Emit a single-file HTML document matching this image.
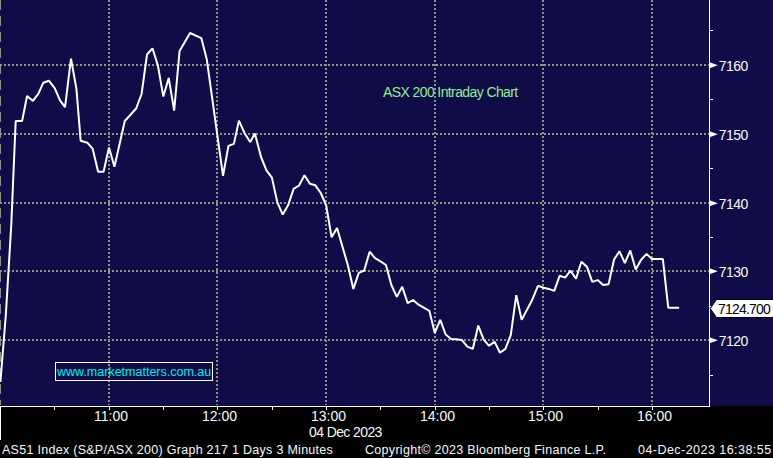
<!DOCTYPE html>
<html><head><meta charset="utf-8"><style>
html,body{margin:0;padding:0;background:#000;}
#c{position:relative;width:773px;height:458px;overflow:hidden;background:#000;}
svg{position:absolute;left:0;top:0;}
.t{position:absolute;font-family:"Liberation Sans",sans-serif;font-size:13px;line-height:16px;white-space:pre;color:#f8f8f8;}
</style></head><body><div id="c">
<svg width="773" height="458" viewBox="0 0 773 458">
<rect x="0" y="0" width="709" height="406" fill="#100c48"/>
<rect x="710" y="0" width="63" height="406" fill="#100c48"/>
<g shape-rendering="crispEdges">
<line x1="0" y1="65" x2="709" y2="65" stroke="#939187" stroke-width="2" stroke-dasharray="2 2"/>
<line x1="0" y1="134" x2="709" y2="134" stroke="#939187" stroke-width="2" stroke-dasharray="2 2"/>
<line x1="0" y1="203" x2="709" y2="203" stroke="#939187" stroke-width="2" stroke-dasharray="2 2"/>
<line x1="0" y1="271" x2="709" y2="271" stroke="#939187" stroke-width="2" stroke-dasharray="2 2"/>
<line x1="0" y1="340" x2="709" y2="340" stroke="#939187" stroke-width="2" stroke-dasharray="2 2"/>
<line x1="109" y1="0" x2="109" y2="405" stroke="#939187" stroke-width="2" stroke-dasharray="2 2"/>
<line x1="217" y1="0" x2="217" y2="405" stroke="#939187" stroke-width="2" stroke-dasharray="2 2"/>
<line x1="326" y1="0" x2="326" y2="405" stroke="#939187" stroke-width="2" stroke-dasharray="2 2"/>
<line x1="435" y1="0" x2="435" y2="405" stroke="#939187" stroke-width="2" stroke-dasharray="2 2"/>
<line x1="543" y1="0" x2="543" y2="405" stroke="#939187" stroke-width="2" stroke-dasharray="2 2"/>
<line x1="652" y1="0" x2="652" y2="405" stroke="#939187" stroke-width="2" stroke-dasharray="2 2"/>
<line x1="0.5" y1="0" x2="0.5" y2="405" stroke="#939187" stroke-width="1" stroke-dasharray="10 6"/>
<rect x="709" y="0" width="1" height="407" fill="#fff"/>
<rect x="0" y="406" width="710" height="1" fill="#fff"/>
<rect x="0" y="406" width="1" height="34" fill="#fff"/>
<rect x="54" y="407" width="1" height="3" fill="#fff"/>
<rect x="109" y="407" width="1" height="3" fill="#fff"/>
<rect x="163" y="407" width="1" height="3" fill="#fff"/>
<rect x="217" y="407" width="1" height="3" fill="#fff"/>
<rect x="272" y="407" width="1" height="3" fill="#fff"/>
<rect x="326" y="407" width="1" height="3" fill="#fff"/>
<rect x="380" y="407" width="1" height="3" fill="#fff"/>
<rect x="435" y="407" width="1" height="3" fill="#fff"/>
<rect x="489" y="407" width="1" height="3" fill="#fff"/>
<rect x="543" y="407" width="1" height="3" fill="#fff"/>
<rect x="598" y="407" width="1" height="3" fill="#fff"/>
<rect x="652" y="407" width="1" height="3" fill="#fff"/>
<rect x="710" y="30" width="3" height="1" fill="#fff"/>
<rect x="710" y="99" width="3" height="1" fill="#fff"/>
<rect x="710" y="168" width="3" height="1" fill="#fff"/>
<rect x="710" y="237" width="3" height="1" fill="#fff"/>
<rect x="710" y="306" width="3" height="1" fill="#fff"/>
<rect x="710" y="375" width="3" height="1" fill="#fff"/>
</g>
<polygon points="709.5,62.3 717.9,65.3 709.5,68.3" fill="#fff"/>
<polygon points="709.5,131.3 717.9,134.3 709.5,137.3" fill="#fff"/>
<polygon points="709.5,200.3 717.9,203.3 709.5,206.3" fill="#fff"/>
<polygon points="709.5,268.3 717.9,271.3 709.5,274.3" fill="#fff"/>
<polygon points="709.5,337.3 717.9,340.3 709.5,343.3" fill="#fff"/>
<rect x="55.5" y="362.5" width="157" height="18" fill="none" stroke="#fff" stroke-width="1"/>
<polyline points="0.40,382 5.83,315 11.26,225 15.69,121 22.12,121 27.05,96.0 32.98,100.9 38.41,93.6 43.34,82.7 48.87,80.7 54.70,88.1 60.13,100.6 65.06,107.1 70.99,58.6 76.42,88.9 80.65,140.7 87.28,142.7 92.71,148.9 98.14,171.7 103.57,171.7 109.00,147.4 114.43,166.8 124.79,121 130.72,114.5 136.15,108.5 141.58,94 147.01,54.5 152.44,48.3 157.87,65.4 163.30,96.5 168.73,78.0 174.16,110.6 179.59,51.0 190.05,33.0 201.31,38.1 206.74,59.2 223.03,175.8 228.46,145.9 233.89,143.9 238.92,120.6 244.75,133.5 250.18,142 254.91,133.5 261.04,157 266.47,170.3 271.90,177.6 277.33,202.4 282.76,214.6 288.19,205.1 293.62,188.9 299.05,185.5 304.48,175.3 309.91,183.8 315.34,185.3 320.77,193 326.20,205.5 331.63,237.3 337.06,228 347.92,265.5 353.35,288.9 358.78,272.9 364.21,270.5 369.64,251.7 375.07,258.2 380.50,261.3 385.93,265.0 391.36,285.0 396.79,296.9 402.22,286.8 407.65,303.1 413.08,300 418.51,304.7 429.37,310.9 434.80,332.9 440.23,319.9 445.66,334.5 451.09,339 456.52,339.2 461.95,340.1 467.38,346.6 472.81,348.9 478.24,325.6 483.67,339.6 489.10,345.8 494.53,341.6 499.96,352.8 505.39,348.9 510.82,334.9 516.25,295.2 521.68,319.9 531.74,300.8 537.97,285.8 543.40,287.8 548.83,288.9 554.26,290.9 559.69,275.7 565.12,277.6 570.55,270.7 575.98,278.8 581.41,261.7 586.84,266.7 592.27,281.9 597.70,280.1 603.13,285 608.56,284.3 613.99,259.8 619.42,251.3 624.85,263 630.28,250.5 635.71,269.5 641.14,259.8 646.57,253.9 652.00,259.1 657.43,259.1 662.86,259.1 668.29,307.8 673.72,307.8 679.15,307.8" fill="none" stroke="#fff" stroke-width="2" stroke-linejoin="bevel"/>
<polygon points="710.3,308.5 716.5,299.5 774,299.5 774,317.5 716.5,317.5" fill="#fff" stroke="#000" stroke-width="1"/>
</svg>
<div class="t" style="left:718.7px;top:58px;font-size:14px;letter-spacing:-0.5px">7160</div><div class="t" style="left:718.7px;top:127px;font-size:14px;letter-spacing:-0.5px">7150</div><div class="t" style="left:718.7px;top:196px;font-size:14px;letter-spacing:-0.5px">7140</div><div class="t" style="left:718.7px;top:264px;font-size:14px;letter-spacing:-0.5px">7130</div><div class="t" style="left:718.7px;top:333px;font-size:14px;letter-spacing:-0.5px">7120</div>
<div class="t" style="left:94px;top:408px;font-size:14px">11:00</div><div class="t" style="left:202px;top:408px;font-size:14px">12:00</div><div class="t" style="left:311px;top:408px;font-size:14px">13:00</div><div class="t" style="left:420px;top:408px;font-size:14px">14:00</div><div class="t" style="left:528px;top:408px;font-size:14px">15:00</div><div class="t" style="left:637px;top:408px;font-size:14px">16:00</div>
<div class="t" style="left:309px;top:424px;font-size:14px;letter-spacing:-0.6px">04 Dec 2023</div><div class="t" style="left:718px;top:301px;font-size:14px;letter-spacing:-0.8px;color:#000">7124.700</div><div class="t" style="left:383px;top:84px;font-size:14px;letter-spacing:-0.6px;color:#90ee90">ASX 200 Intraday Chart</div><div class="t" style="left:57px;top:364px;font-size:12.5px;color:#00ecec">www.marketmatters.com.au</div><div class="t" style="left:2px;top:442px;font-size:12.5px;letter-spacing:0.28px">AS51 Index (S&amp;P/ASX 200) Graph 217 1 Days 3 Minutes</div><div class="t" style="left:365px;top:442px;font-size:12.5px;letter-spacing:0.3px">Copyright&copy; 2023 Bloomberg Finance L.P.</div><div class="t" style="left:638px;top:442px;font-size:12.5px;letter-spacing:0.46px">04-Dec-2023 16:38:55</div>
</div></body></html>
